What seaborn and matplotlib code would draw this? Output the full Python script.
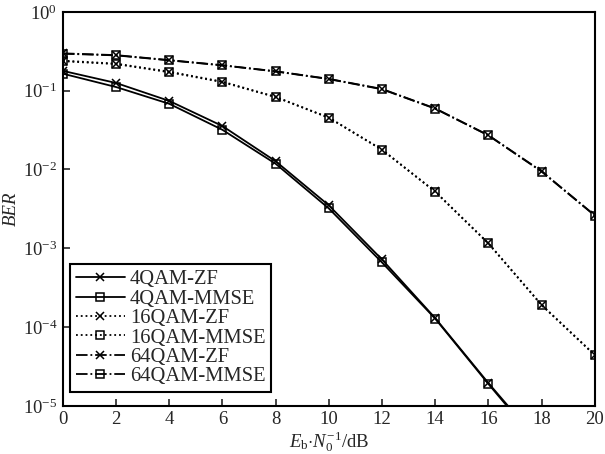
import numpy as np
import pandas as pd
import matplotlib
matplotlib.use("Agg")
import matplotlib.pyplot as plt
import seaborn as sns
from matplotlib.ticker import LogLocator, NullLocator, FixedLocator

snr = [0, 2, 4, 6, 8, 10, 12, 14, 16, 18]
snr_full = [0, 2, 4, 6, 8, 10, 12, 14, 16, 18, 20]

qam4_zf = [0.178, 0.125, 0.0740, 0.0355, 0.0127, 3.5e-3, 7.2e-4, 1.30e-4, 1.95e-5, 3.2e-6]
qam4_mmse = [0.164, 0.111, 0.0680, 0.0318, 0.0118, 3.2e-3, 6.6e-4, 1.28e-4, 1.90e-5, 3.0e-6]
qam16_zf = [0.240, 0.220, 0.174, 0.130, 0.0835, 0.0455, 0.0179, 5.25e-3, 1.16e-3, 1.92e-4, 4.45e-5]
qam16_mmse = [0.236, 0.217, 0.171, 0.128, 0.0826, 0.0452, 0.0177, 5.2e-3, 1.15e-3, 1.90e-4, 4.4e-5]
qam64_zf = [0.297, 0.282, 0.244, 0.210, 0.176, 0.141, 0.105, 0.0595, 0.0272, 9.5e-3, 2.62e-3]
qam64_mmse = [0.294, 0.280, 0.242, 0.209, 0.175, 0.140, 0.104, 0.0590, 0.0270, 9.4e-3, 2.6e-3]

labels = ["4QAM-ZF", "4QAM-MMSE", "16QAM-ZF", "16QAM-MMSE", "64QAM-ZF", "64QAM-MMSE"]

sns.set_style("ticks")
plt.rcParams["font.family"] = ["Liberation Serif", "DejaVu Serif"]
plt.rcParams["mathtext.fontset"] = "custom"
plt.rcParams["mathtext.rm"] = "Liberation Serif"
plt.rcParams["mathtext.it"] = "Liberation Serif:italic"
plt.rcParams["mathtext.bf"] = "Liberation Serif:bold"

fig = plt.figure(figsize=(6.05, 4.54), dpi=100)
ax = fig.add_axes([0.104, 0.106, 0.879, 0.868])

series = [
    (snr, qam4_zf, "-", "x"),
    (snr, qam4_mmse, "-", "s"),
    (snr_full, qam16_zf, ":", "x"),
    (snr_full, qam16_mmse, ":", "s"),
    (snr_full, qam64_zf, "-.", "x"),
    (snr_full, qam64_mmse, "-.", "s"),
]

for (xs, ys, ls, mk), lab in zip(series, labels):
    sns.lineplot(x=xs, y=ys, ax=ax, color="black", linestyle=ls, marker=mk,
                 markersize=6, markerfacecolor="none", markeredgecolor="black",
                 markeredgewidth=1.1, linewidth=1.3, label=lab, sort=False)

ax.set_yscale("log")
ax.set_xlim(0, 20)
ax.set_ylim(1e-5, 1)
ax.xaxis.set_major_locator(FixedLocator(np.arange(0, 21, 2)))
ax.yaxis.set_major_locator(LogLocator(base=10, numticks=10))
ax.yaxis.set_minor_locator(NullLocator())
ax.tick_params(direction="in", length=5, width=1.2, labelsize=13.5, pad=4)
for sp in ax.spines.values():
    sp.set_linewidth(1.5)
    sp.set_color("black")

ax.set_xlabel(r"$E_{\rm b}{\cdot}N_0^{-1}$/dB", fontsize=13.5, labelpad=1)
ax.set_ylabel("BER", fontsize=13.5, style="italic", labelpad=2)

leg = ax.legend(loc="lower left", bbox_to_anchor=(0.013, 0.035), fontsize=14.8,
                frameon=True, fancybox=False, edgecolor="black", borderaxespad=0.0,
                handlelength=2.4, handletextpad=0.25, labelspacing=0.0, borderpad=0.28)
leg.get_frame().set_linewidth(1.5)
leg.get_frame().set_alpha(1)

fig.savefig("out.png", dpi=100)
